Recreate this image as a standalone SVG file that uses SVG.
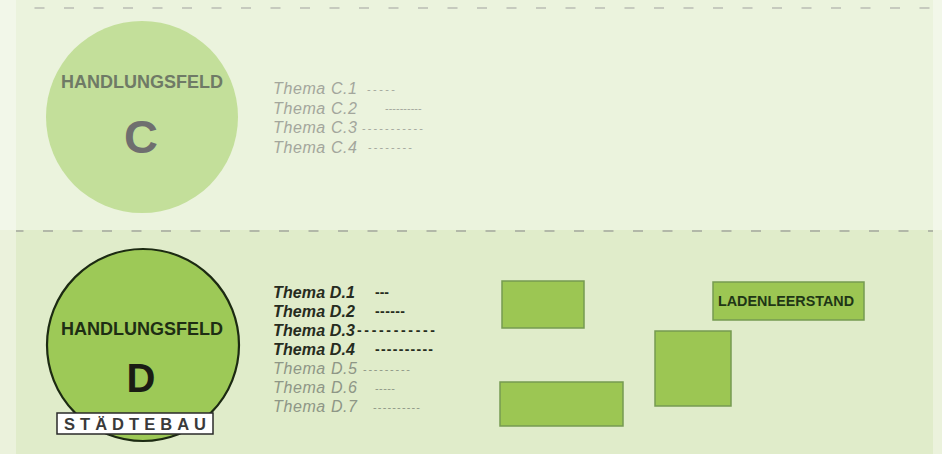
<svg xmlns="http://www.w3.org/2000/svg" width="942" height="454" viewBox="0 0 942 454">
  <style>
    .band-top { fill: #ebf3dd; }
    .band-bot { fill: #e0ecca; }
    .margin { fill: #ffffff; opacity: 0.35; }
    .sep { fill: none; stroke-width: 2; stroke-dasharray: 10 19.5; }
    .title { font-family: "Liberation Sans", Arial, sans-serif; font-weight: bold; font-size: 18px; text-anchor: middle; }
    .letter { font-family: "Liberation Sans", Arial, sans-serif; font-weight: bold; text-anchor: middle; }
    .topic { font-family: "Liberation Sans", Arial, sans-serif; font-style: italic; font-size: 16px; }
    .topic-c { fill: #a3a69c; }
    .topic-on { fill: #262b20; font-weight: bold; }
    .topic-off { fill: #8e9686; }
    .rule { font-style: normal; font-size: 11px; }
    .rule-on { font-style: normal; font-size: 14px; }
    .block { fill: #9cc653; stroke: #769a52; stroke-width: 1.5; }
  </style>

  <!-- background bands -->
  <rect x="0" y="0" width="942" height="230" class="band-top"/>
  <rect x="0" y="230" width="942" height="224" class="band-bot"/>
  <rect x="0" y="0" width="16" height="454" class="margin"/>
  <rect x="933" y="0" width="9" height="454" class="margin"/>

  <!-- dashed separators -->
  <line x1="16" y1="8" x2="933" y2="8" class="sep" stroke="#c6cabe" stroke-dashoffset="11"/>
  <line x1="16" y1="231" x2="933" y2="231" class="sep" stroke="#b2b8a8" stroke-dashoffset="2.5"/>

  <!-- field C -->
  <g id="field-c">
    <circle cx="142" cy="117" r="96" fill="#c3df9a"/>
    <text x="142" y="88" class="title" fill="#6f7a66">HANDLUNGSFELD</text>
    <text x="141" y="153" class="letter" font-size="47" fill="#6f6f6f">C</text>
  </g>

  <g id="topics-c" class="topic topic-c">
    <text x="273" y="94" textLength="84">Thema C.1</text>
    <text x="367" y="92.5" class="rule" textLength="28">-----</text>
    <text x="273" y="113.5" textLength="84">Thema C.2</text>
    <text x="385" y="112" class="rule">----------</text>
    <text x="273" y="133" textLength="84">Thema C.3</text>
    <text x="362" y="131.5" class="rule" textLength="61">-----------</text>
    <text x="273" y="152.5" textLength="84">Thema C.4</text>
    <text x="368" y="151" class="rule" textLength="44">--------</text>
  </g>

  <!-- field D -->
  <g id="field-d">
    <circle cx="143" cy="345" r="96" fill="#9dc957" stroke="#1c2a12" stroke-width="2.2"/>
    <text x="142" y="335" class="title" fill="#1e2e14">HANDLUNGSFELD</text>
    <text x="141" y="392" class="letter" font-size="40" fill="#1a1c14">D</text>
  </g>

  <g id="label-staedtebau">
    <rect x="57" y="413" width="156" height="21" fill="#ffffff" stroke="#2a2a2a" stroke-width="1.5"/>
    <text x="64" y="429.5" font-family="Liberation Sans, Arial, sans-serif" font-weight="bold" font-size="16.5" fill="#3a3a3a" textLength="142" lengthAdjust="spacing">STÄDTEBAU</text>
  </g>

  <g id="topics-d" class="topic">
    <g class="topic-on">
      <text x="273" y="298" textLength="82">Thema D.1</text>
      <text x="375" y="297" class="rule-on">---</text>
      <text x="273" y="317" textLength="82">Thema D.2</text>
      <text x="375" y="316" class="rule-on" textLength="30">------</text>
      <text x="273" y="336" textLength="82">Thema D.3</text>
      <text x="357" y="335" class="rule-on" textLength="78">-----------</text>
      <text x="273" y="355" textLength="82">Thema D.4</text>
      <text x="375" y="354" class="rule-on" textLength="58">----------</text>
    </g>
    <g class="topic-off">
      <text x="273" y="374" textLength="84">Thema D.5</text>
      <text x="363" y="372.5" class="rule" textLength="47">---------</text>
      <text x="273" y="393" textLength="84">Thema D.6</text>
      <text x="375" y="391.5" class="rule" textLength="20">-----</text>
      <text x="273" y="412" textLength="84">Thema D.7</text>
      <text x="373" y="410.5" class="rule" textLength="47">----------</text>
    </g>
  </g>

  <!-- blocks -->
  <g id="block-1"><rect x="502" y="281" width="82" height="47" class="block"/></g>
  <g id="block-2"><rect x="500" y="382" width="123" height="44" class="block"/></g>
  <g id="block-3"><rect x="655" y="331" width="76" height="75" class="block"/></g>
  <g id="block-ladenleerstand">
    <rect x="713" y="282" width="151" height="38" class="block"/>
    <text x="718" y="306" font-family="Liberation Sans, Arial, sans-serif" font-weight="bold" font-size="15" fill="#1f3616" textLength="136" lengthAdjust="spacingAndGlyphs">LADENLEERSTAND</text>
  </g>
</svg>
